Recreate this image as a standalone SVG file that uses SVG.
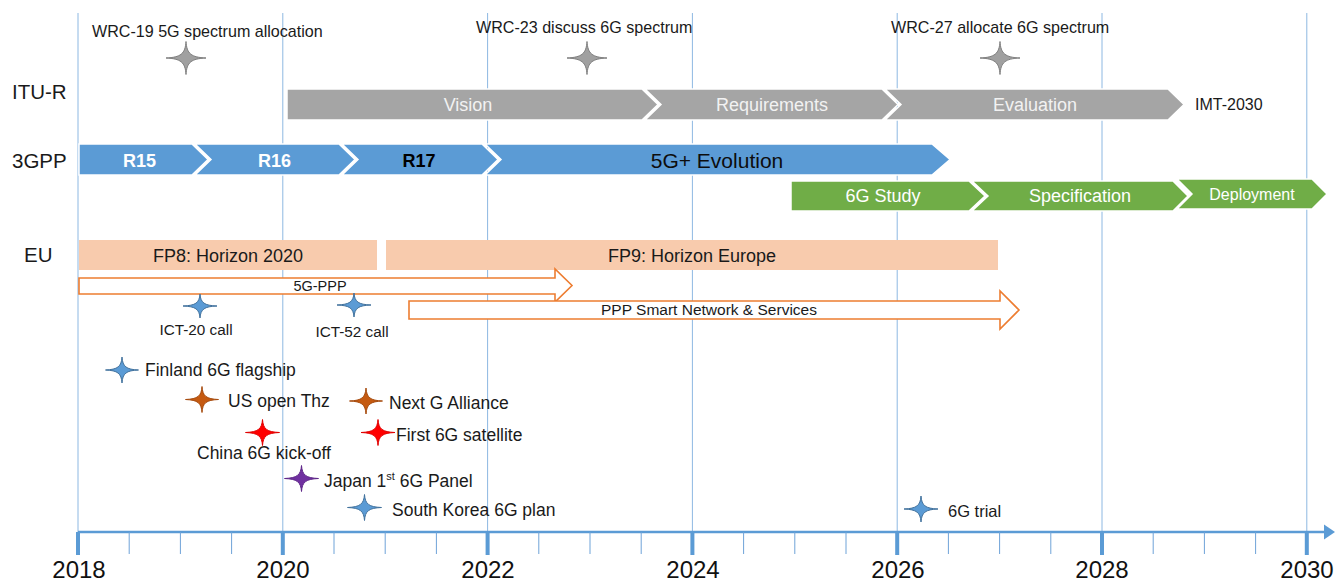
<svg xmlns="http://www.w3.org/2000/svg" xmlns:xlink="http://www.w3.org/1999/xlink" width="1335" height="581" viewBox="0 0 1335 581">
<style>
text{font-family:"Liberation Sans",Arial,sans-serif;fill:#1a1a1a}
.grid{stroke:#8DB8E2;stroke-width:1}
.minor{stroke:#6FA3D8;stroke-width:1}
.major{fill:#5B9BD5}
.gray{fill:#A5A5A5;stroke:#fff;stroke-width:1.5}
.blue{fill:#5B9BD5;stroke:#fff;stroke-width:1.5}
.green{fill:#70AD47;stroke:#fff;stroke-width:1.5}
.peach{fill:#F8CBAD}
.oarrow{fill:#fff;stroke:#ED7D31;stroke-width:1.6}
.ct{font-size:18px;fill:#F2F2F2;text-anchor:middle}
.rl{font-size:18px;font-weight:bold;text-anchor:middle}
.top{font-size:16.1px}
.ev{font-size:17.5px}
.lab{font-size:20.5px}
.yr{font-size:24px;text-anchor:middle;fill:#111}
.sg{fill:#A0A0A0;stroke:#7F7F7F}
.sb{fill:#5B9BD5;stroke:#41719C}
.so{fill:#C55A11;stroke:#A64B0E}
.sr{fill:#FF0000;stroke:#E00000}
.sp{fill:#7030A0;stroke:#5E2688}
</style>
<defs>
<path id="star" vector-effect="non-scaling-stroke" stroke-width="1" d="M0,-1 C0.04,-0.26 0.26,-0.04 1,0 C0.26,0.04 0.04,0.26 0,1 C-0.04,0.26 -0.26,0.04 -1,0 C-0.26,-0.04 -0.04,-0.26 0,-1 Z"/>
</defs>
<rect width="1335" height="581" fill="#fff"/>
<g id="grid">
<line class="grid" x1="78" y1="13" x2="78" y2="532"/>
<line class="grid" x1="282.8" y1="13" x2="282.8" y2="532"/>
<line class="grid" x1="487.6" y1="13" x2="487.6" y2="532"/>
<line class="grid" x1="692.4" y1="13" x2="692.4" y2="532"/>
<line class="grid" x1="897.2" y1="13" x2="897.2" y2="532"/>
<line class="grid" x1="1102" y1="13" x2="1102" y2="532"/>
<line class="grid" x1="1306.8" y1="13" x2="1306.8" y2="532"/>
</g>
<g id="connectors">
<g id="axis">
<line x1="78" y1="532" x2="1326" y2="532" stroke="#5B9BD5" stroke-width="2.5"/>
<polygon points="1324,524.5 1335,532 1324,539.5" fill="#5B9BD5"/>
<g class="minor">
<line x1="129.2" y1="532" x2="129.2" y2="554"/><line x1="180.4" y1="532" x2="180.4" y2="554"/><line x1="231.6" y1="532" x2="231.6" y2="554"/>
<line x1="334" y1="532" x2="334" y2="554"/><line x1="385.2" y1="532" x2="385.2" y2="554"/><line x1="436.4" y1="532" x2="436.4" y2="554"/>
<line x1="538.8" y1="532" x2="538.8" y2="554"/><line x1="590" y1="532" x2="590" y2="554"/><line x1="641.2" y1="532" x2="641.2" y2="554"/>
<line x1="743.6" y1="532" x2="743.6" y2="554"/><line x1="794.8" y1="532" x2="794.8" y2="554"/><line x1="846" y1="532" x2="846" y2="554"/>
<line x1="948.4" y1="532" x2="948.4" y2="554"/><line x1="999.6" y1="532" x2="999.6" y2="554"/><line x1="1050.8" y1="532" x2="1050.8" y2="554"/>
<line x1="1153.2" y1="532" x2="1153.2" y2="554"/><line x1="1204.4" y1="532" x2="1204.4" y2="554"/><line x1="1255.6" y1="532" x2="1255.6" y2="554"/>
</g>
<rect class="major" x="76" y="532" width="4" height="23"/>
<rect class="major" x="280.8" y="532" width="4" height="23"/>
<rect class="major" x="485.6" y="532" width="4" height="23"/>
<rect class="major" x="690.4" y="532" width="4" height="23"/>
<rect class="major" x="895.2" y="532" width="4" height="23"/>
<rect class="major" x="1100" y="532" width="4" height="23"/>
<rect class="major" x="1304.8" y="532" width="4" height="23"/>
<text class="yr" x="79" y="578">2018</text>
<text class="yr" x="283" y="578">2020</text>
<text class="yr" x="488" y="578">2022</text>
<text class="yr" x="693" y="578">2024</text>
<text class="yr" x="898" y="578">2026</text>
<text class="yr" x="1102" y="578">2028</text>
<text class="yr" x="1307" y="578">2030</text>
</g>
</g>
<g id="row-labels">
<text class="lab" x="12" y="99">ITU-R</text>
<text class="lab" x="12" y="168">3GPP</text>
<text class="lab" x="24" y="262">EU</text>
</g>
<g id="wrc19">
<use xlink:href="#star" href="#star" class="sg" transform="translate(186,58) scale(20,16.5)"/>
<text class="top" x="92" y="37">WRC-19 5G spectrum allocation</text>
</g>
<g id="wrc23">
<use xlink:href="#star" href="#star" class="sg" transform="translate(587,58) scale(20,16.5)"/>
<text class="top" x="476" y="33">WRC-23 discuss 6G spectrum</text>
</g>
<g id="wrc27">
<use xlink:href="#star" href="#star" class="sg" transform="translate(1000,58) scale(20,16.5)"/>
<text class="top" x="891" y="33">WRC-27 allocate 6G spectrum</text>
</g>
<g id="vision">
<polygon class="gray" points="287,89 642,89 658,104.5 642,120 287,120"/>
<text class="ct" x="468" y="111">Vision</text>
</g>
<g id="requirements">
<polygon class="gray" points="645,89 882,89 898,104.5 882,120 645,120 661,104.5"/>
<text class="ct" x="772" y="111">Requirements</text>
</g>
<g id="evaluation">
<polygon class="gray" points="885,89 1168,89 1184,104.5 1168,120 885,120 901,104.5"/>
<text class="ct" x="1035" y="111">Evaluation</text>
</g>
<g id="imt2030">
<text x="1195" y="110" style="font-size:16px">IMT-2030</text>
</g>
<g id="r15">
<polygon class="blue" points="79,144 192,144 208,159.5 192,175 79,175"/>
<text class="rl" x="139.5" y="167" style="fill:#fff">R15</text>
</g>
<g id="r16">
<polygon class="blue" points="195,144 339,144 355,159.5 339,175 195,175 211,159.5"/>
<text class="rl" x="274.5" y="167" style="fill:#fff">R16</text>
</g>
<g id="r17">
<polygon class="blue" points="342,144 482,144 498,159.5 482,175 342,175 358,159.5"/>
<text class="rl" x="419" y="167" style="fill:#000">R17</text>
</g>
<g id="evolution">
<polygon class="blue" points="485,144 932,144 950,159.5 932,175 485,175 501,159.5"/>
<text x="717" y="168" style="font-size:21px;text-anchor:middle;fill:#0d0d0d">5G+ Evolution</text>
</g>
<g id="study">
<polygon class="green" points="791,181 969,181 985,196 969,211 791,211"/>
<text class="ct" x="883" y="202" style="fill:#fff">6G Study</text>
</g>
<g id="specification">
<polygon class="green" points="972,181 1173,181 1188,196 1173,211 972,211 988,196"/>
<text class="ct" x="1080" y="202" style="fill:#fff">Specification</text>
</g>
<g id="deployment">
<polygon class="green" points="1177,179 1312,179 1327,194 1312,209 1177,209 1192,194"/>
<text class="ct" x="1252" y="200" style="fill:#fff;font-size:16px">Deployment</text>
</g>
<g id="fp8">
<rect class="peach" x="79" y="240" width="298" height="30"/>
<text x="228" y="262" style="font-size:18px;text-anchor:middle">FP8: Horizon 2020</text>
</g>
<g id="fp9">
<rect class="peach" x="386" y="240" width="612" height="30"/>
<text x="692" y="262" style="font-size:18px;text-anchor:middle">FP9: Horizon Europe</text>
</g>
<g id="ppp5g">
<polygon class="oarrow" points="79,278 555,278 555,269 572,285.5 555,302 555,294 79,294"/>
<text x="320" y="291" style="font-size:14.5px;text-anchor:middle">5G-PPP</text>
</g>
<g id="pppsns">
<polygon class="oarrow" points="409,301 1000,301 1000,291 1019,310 1000,329 1000,319 409,319"/>
<text x="709" y="315" style="font-size:15.5px;text-anchor:middle">PPP Smart Network &amp; Services</text>
</g>
<g id="ict20">
<use xlink:href="#star" href="#star" class="sb" transform="translate(200,306) scale(17,12)"/>
<text x="196" y="335" style="font-size:15.3px;text-anchor:middle">ICT-20 call</text>
</g>
<g id="ict52">
<use xlink:href="#star" href="#star" class="sb" transform="translate(354,305) scale(17,12)"/>
<text x="352" y="337" style="font-size:15.3px;text-anchor:middle">ICT-52 call</text>
</g>
<g id="finland">
<use xlink:href="#star" href="#star" class="sb" transform="translate(122,370) scale(16.5,13)"/>
<text class="ev" x="145" y="376">Finland 6G flagship</text>
</g>
<g id="us">
<use xlink:href="#star" href="#star" class="so" transform="translate(202,399.5) scale(16.5,13)"/>
<text class="ev" x="228" y="407">US open Thz</text>
</g>
<g id="nextg">
<use xlink:href="#star" href="#star" class="so" transform="translate(366,401) scale(16.5,13)"/>
<text class="ev" x="389" y="409">Next G Alliance</text>
</g>
<g id="china">
<use xlink:href="#star" href="#star" class="sr" transform="translate(262.5,432.5) scale(17,13)"/>
<text class="ev" x="197" y="459">China 6G kick-off</text>
</g>
<g id="satellite">
<use xlink:href="#star" href="#star" class="sr" transform="translate(378,432.5) scale(17,13)"/>
<text class="ev" x="396" y="441">First 6G satellite</text>
</g>
<g id="japan">
<use xlink:href="#star" href="#star" class="sp" transform="translate(301.5,478.5) scale(17,13)"/>
<text class="ev" x="324" y="487">Japan 1<tspan style="font-size:11px" dy="-7">st</tspan><tspan dy="7"> 6G Panel</tspan></text>
</g>
<g id="korea">
<use xlink:href="#star" href="#star" class="sb" transform="translate(364.5,507.5) scale(17,13)"/>
<text class="ev" x="392" y="516">South Korea 6G plan</text>
</g>
<g id="trial">
<use xlink:href="#star" href="#star" class="sb" transform="translate(921,509) scale(17,13)"/>
<text x="948" y="517" style="font-size:16.5px">6G trial</text>
</g>
</svg>
